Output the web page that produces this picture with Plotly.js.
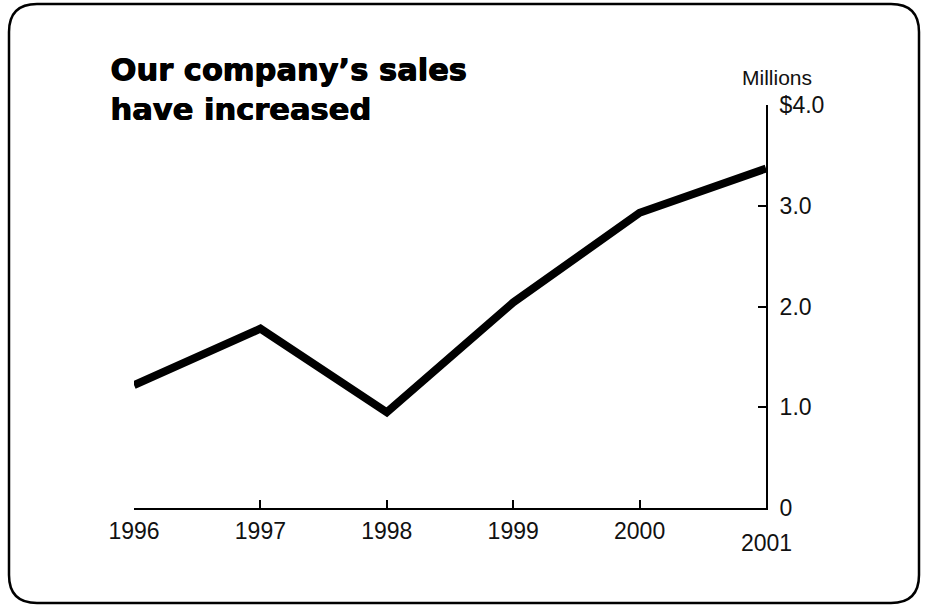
<!DOCTYPE html>
<html>
<head>
<meta charset="utf-8">
<script src="https://cdn.plot.ly/plotly-3.0.1.min.js"></script>
<style>
html,body{margin:0;padding:0;background:#fff;}
#chart{width:928px;height:607px;}
</style>
</head>
<body>
<div id="chart"></div>
<script>
// Data
const years = [1996, 1997, 1998, 1999, 2000, 2001];
const sales = [1.22, 1.78, 0.95, 2.04, 2.93, 3.37];
const xTickVals = [1996, 1997, 1998, 1999, 2000];
const xTickText = ['1996', '1997', '1998', '1999', '2000'];
const yTickVals = [0, 1, 2, 3, 4];
const yTickText = ['0', '1.0', '2.0', '3.0', '$4.0'];
const titleLines = ['Our company\u2019s sales', 'have increased'];
const unitLabel = 'Millions';

// Layout geometry (pixels)
const W = 928, H = 607;
const L = 134, R = 766, T = 105, B = 508;
const px = v => (v - L) / (R - L);
const py = v => (B - v) / (B - T);

function roundRect(x0, y0, x1, y1, r) {
  const P = (x, y) => px(x) + ',' + py(y);
  return 'M' + P(x0 + r, y0) + ' L' + P(x1 - r, y0) +
    ' Q' + P(x1, y0) + ' ' + P(x1, y0 + r) +
    ' L' + P(x1, y1 - r) +
    ' Q' + P(x1, y1) + ' ' + P(x1 - r, y1) +
    ' L' + P(x0 + r, y1) +
    ' Q' + P(x0, y1) + ' ' + P(x0, y1 - r) +
    ' L' + P(x0, y0 + r) +
    ' Q' + P(x0, y0) + ' ' + P(x0 + r, y0) + ' Z';
}

const FONT = '"Liberation Sans", Arial, Helvetica, sans-serif';
const TITLE_FONT = '"DejaVu Sans", "Liberation Sans", Arial, sans-serif';

const trace = {
  x: years,
  y: sales,
  type: 'scatter',
  mode: 'lines',
  line: {color: '#000', width: 8},
  hoverinfo: 'x+y'
};

const layout = {
  width: W, height: H,
  margin: {l: L, r: W - R, t: T, b: H - B, pad: 0},
  paper_bgcolor: '#fff',
  plot_bgcolor: '#fff',
  showlegend: false,
  font: {family: FONT, color: '#111', size: 23},
  xaxis: {
    range: [1996, 2001],
    tickvals: xTickVals,
    ticktext: xTickText,
    ticks: 'inside', ticklen: 8, tickwidth: 2, tickcolor: '#000',
    showline: true, linecolor: '#000', linewidth: 2,
    showgrid: false, zeroline: false,
    ticklabelstandoff: 1,
    tickfont: {family: FONT, size: 23, color: '#111'},
    fixedrange: true
  },
  yaxis: {
    range: [0, 4],
    side: 'right',
    tickvals: yTickVals,
    ticktext: yTickText,
    ticks: 'inside', ticklen: 8, tickwidth: 2, tickcolor: '#000',
    showline: true, linecolor: '#000', linewidth: 2,
    showgrid: false, zeroline: false,
    ticklabelstandoff: 7,
    tickfont: {family: FONT, size: 23, color: '#111'},
    fixedrange: true
  },
  shapes: [{
    type: 'path', xref: 'paper', yref: 'paper',
    path: roundRect(9, 4, 919, 603, 28),
    line: {color: '#000', width: 2.5},
    fillcolor: 'rgba(0,0,0,0)',
    layer: 'below'
  }],
  annotations: [
    {xref: 'paper', yref: 'paper', x: px(108), y: py(89), xanchor: 'left', yanchor: 'middle',
     align: 'left',
     text: '<b>' + titleLines[0] + '<br>' + titleLines[1] + '</b>', showarrow: false,
     font: {family: TITLE_FONT, size: 30.5, color: '#000',
            shadow: '1px 0 0 #000, 0.5px 0.5px 0 #000'}},
    {xref: 'paper', yref: 'paper', x: px(777), y: py(78), xanchor: 'center', yanchor: 'middle',
     text: unitLabel, showarrow: false,
     font: {family: FONT, size: 21, color: '#111'}},
    {xref: 'x', yref: 'paper', x: years[5], y: py(543), xanchor: 'center', yanchor: 'middle',
     text: String(years[5]), showarrow: false,
     font: {family: FONT, size: 23, color: '#111'}}
  ]
};

Plotly.newPlot('chart', [trace], layout, {displayModeBar: false, staticPlot: true});
</script>
</body>
</html>
